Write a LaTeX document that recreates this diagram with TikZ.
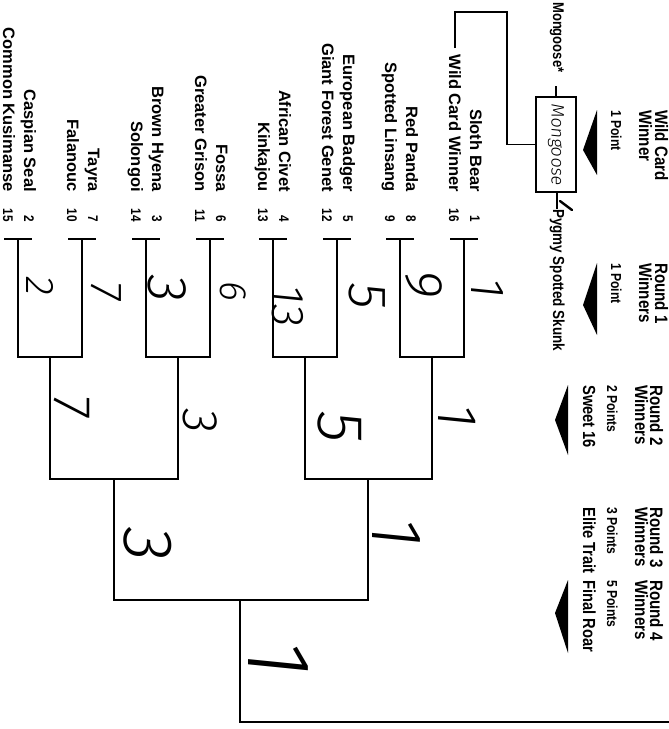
\documentclass[tikz,border=0pt]{standalone}
\usepackage{fontspec}
\usetikzlibrary{positioning}
\newfontfamily\arial{Liberation Sans}
\newfontfamily\narrow{Liberation Sans}[FakeStretch=0.84]
\IfFontExistsTF{Fira Sans Light}
  {\newfontfamily\hand{Fira Sans Light}[FakeSlant=0.1]}
  {\newfontfamily\hand{DejaVu Sans ExtraLight}[FakeSlant=0.1]}

\tikzset{
  team/.style={rotate=-90, anchor=base east, inner sep=0pt, font=\arial\bfseries\fontsize{16.5}{20}\selectfont},
  seed/.style={rotate=-90, anchor=base east, inner sep=0pt, font=\narrow\bfseries\fontsize{14}{14}\selectfont},
  headtitle/.style={rotate=-90, anchor=base west, inner sep=0pt, font=\narrow\bfseries\fontsize{18}{18}\selectfont},
  headpts/.style={rotate=-90, anchor=base west, inner sep=0pt, font=\narrow\bfseries\fontsize{14.5}{15}\selectfont},
  headsub/.style={rotate=-90, anchor=base west, inner sep=0pt, font=\narrow\bfseries\fontsize{17.5}{18}\selectfont},
  playin/.style={rotate=-90, anchor=base west, inner sep=0pt, font=\narrow\bfseries\fontsize{15.5}{16}\selectfont},
  pick/.style={rotate=-90, inner sep=0pt, font=\hand\fontsize{#1}{#1}\selectfont},
  pick/.default=50,
  bracket/.style={line width=1.6pt},
}

\begin{document}
\begin{tikzpicture}[x=1pt, y=-1pt]
\useasboundingbox (0,0) rectangle (669,729);

% first round matchups, right to left
\foreach \vx/\hi/\his/\lo/\los [count=\i] in {
    464/Sloth Bear/1/Wild Card Winner/16,
    400/Red Panda/8/Spotted Linsang/9,
    337/European Badger/5/Giant Forest Genet/12,
    273/African Civet/4/Kinkajou/13,
    210/Fossa/6/Greater Grison/11,
    146/Brown Hyena/3/Solongoi/14,
    82/Tayra/7/Falanouc/10,
    18/Caspian Seal/2/Common Kusimanse/15}{
  \coordinate (m\i) at (\vx,239);
  \node[team] (hi\i) at (\vx+6,192) {\hi};
  \node[team] (lo\i) at (\vx-15,192) {\lo};
  \node[seed] (his\i) at (\vx+6,222) {\his};
  \node[seed] (los\i) at (\vx-15,222) {\los};
  \draw[bracket] ([xshift=-14pt]m\i) -- ([xshift=14pt]m\i);
}

% bracket joins
\coordinate (q1) at (432,357);
\coordinate (q2) at (305,357);
\coordinate (q3) at (178,357);
\coordinate (q4) at (50,357);
\coordinate (s1) at (368,479);
\coordinate (s2) at (114,479);
\coordinate (f) at (240,600);
\coordinate (champ) at (669,722);
\draw[bracket] (m1) |- (q1) -| (m2);
\draw[bracket] (m3) |- (q2) -| (m4);
\draw[bracket] (m5) |- (q3) -| (m6);
\draw[bracket] (m7) |- (q4) -| (m8);
\draw[bracket] (q1) |- (s1) -| (q2);
\draw[bracket] (q3) |- (s2) -| (q4);
\draw[bracket] (s1) |- (f) -| (s2);
\draw[bracket] (f) |- (champ);

% wild card play-in
\node[draw, line width=1.3pt, minimum width=40pt, minimum height=95pt, inner sep=0pt] (wcbox) at (556,144.5) {};
\node[pick=18] (wcpick) at (wcbox) {Mongoose};
\node[playin] (mongoose) at (553,2) {Mongoose*};
\node[playin, font=\narrow\bfseries\fontsize{16}{16}\selectfont] (skunk) at (553,209) {Pygmy Spotted Skunk};
\coordinate (wcfoot) at (455,48);
\coordinate (wcturn) at (507,12);
\draw[bracket] (wcfoot) |- (wcturn) |- (wcbox.west);
\draw[bracket, shorten >=13pt] (wcbox.north) -- (wcbox.north |- mongoose.east);
\draw[bracket] (wcbox.south -| skunk.west) -- (skunk.west);
\draw[line width=2.4pt, line cap=round] (560,201) -- (572,210);

% round headers
\node[headtitle] (wct) at (655,110) {Wild Card};
\node[headtitle] (wcw) at (639,110) {Winner};
\node[headpts] (wcp) at (611,110) {1 Point};
\node[headtitle] (r1t) at (655,263) {Round 1};
\node[headtitle] (r1w) at (639,263) {Winners};
\node[headpts] (r1p) at (611,263) {1 Point};
\node[headtitle] (r2t) at (650,385) {Round 2};
\node[headtitle] (r2w) at (635,385) {Winners};
\node[headpts] (r2p) at (607,385) {2 Points};
\node[headsub] (r2s) at (583,385) {Sweet 16};
\node[headtitle] (r3t) at (650,507) {Round 3};
\node[headtitle] (r3w) at (635,507) {Winners};
\node[headpts] (r3p) at (607,507) {3 Points};
\node[headsub] (r3s) at (583,507) {Elite Trait};
\node[headtitle] (r4t) at (650,580) {Round 4};
\node[headtitle] (r4w) at (635,580) {Winners};
\node[headpts] (r4p) at (607,580) {5 Points};
\node[headsub] (r4s) at (583,580) {Final Roar};
\fill (597,110) -- (597,175) -- (583,150) -- cycle;
\fill (597,263) -- (597,335) -- (583,305) -- cycle;
\fill (568,385) -- (568,455) -- (555,420) -- cycle;
\fill (568,580) -- (568,653) -- (555,613) -- cycle;

% handwritten picks
\node[pick=48] (p11) at (487,287) {1};
\node[pick=53] (p12) at (424,283) {9};
\node[pick=54] (p13) at (367,295) {5};
\node[pick=46] (p14) at (288,305) {13};
\node[pick=38] (p15) at (233,290) {6};
\node[pick=56] (p16) at (167,287) {3};
\node[pick=45] (p17) at (106,290) {7};
\node[pick=40] (p18) at (40,285) {2};
\node[pick=56] (p21) at (457,415) {1};
\node[pick=65] (p22) at (340,425) {5};
\node[pick=50] (p23) at (200,420) {3};
\node[pick=53] (p24) at (72,405) {7};
\node[pick=72] (p31) at (396,531) {1};
\node[pick=70] (p32) at (148,543) {3};
\node[pick=90] (p41) at (278,657) {1};
\end{tikzpicture}
\end{document}
